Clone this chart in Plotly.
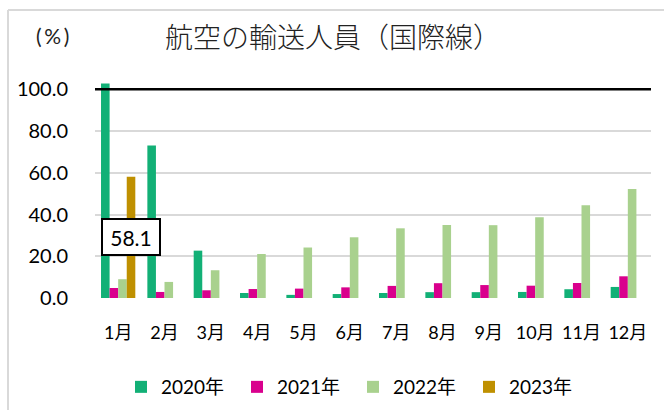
import plotly.graph_objects as go

# Monthly international air passengers, relative to the 2019 level (%)
months = ["1月", "2月", "3月", "4月", "5月", "6月", "7月", "8月", "9月", "10月", "11月", "12月"]
y2020 = [102.8, 73.1, 22.7, 2.4, 1.5, 1.9, 2.4, 2.8, 2.8, 2.9, 4.2, 5.3]
y2021 = [4.8, 2.9, 3.7, 4.3, 4.5, 5.1, 5.8, 7.1, 6.2, 5.9, 7.2, 10.4]
y2022 = [9.0, 7.7, 13.3, 21.1, 24.2, 29.1, 33.4, 35.0, 34.9, 38.7, 44.5, 52.2]
y2023 = [58.1, None, None, None, None, None, None, None, None, None, None, None]
series_names = ["2020年", "2021年", "2022年", "2023年"]
reference_level = 100.0
y_ticks = [0, 20, 40, 60, 80, 100]

colors = ["#12B076", "#D9008D", "#A9D18E", "#BF9000"]

W, H = 664, 410
ML, MR, MT, MB = 95, 13, 81, 112
BARGAP = 0.26

num_font = "Lato, 'Noto Sans CJK JP', sans-serif"
cjk_font = "'Noto Sans CJK JP', sans-serif"

pw = W - ML - MR
ph = H - MT - MB
def px_x(p):
    return (p - ML) / pw
def px_y(p):
    return (H - p - MB) / ph

fig = go.Figure()
for name, vals, col in zip(series_names, [y2020, y2021, y2022, y2023], colors):
    fig.add_trace(go.Bar(x=months, y=vals, name=name, marker_color=col,
                         marker_line_width=0))

# horizontal reference line at 100
fig.add_hline(y=reference_level, line_color="#000000", line_width=2.5, layer="above")

# centred value label on the 2023 January bar
n_series = len(series_names)
group_w = 1 - BARGAP
offset = group_w * ((n_series - 0.5) / n_series - 0.5)
jan_idx = months.index("1月")
fig.add_annotation(x=jan_idx + offset, y=y2023[jan_idx] / 2, xref="x", yref="y",
                   text=f"{y2023[jan_idx]:.1f}", showarrow=False,
                   font=dict(family=num_font, size=21, color="#000000"),
                   bgcolor="#FFFFFF", bordercolor="#000000", borderwidth=2,
                   width=56, height=34, borderpad=0)

# unit label
fig.add_annotation(x=px_x(52), y=px_y(36), xref="paper", yref="paper",
                   text="(\u2009%\u2009)", showarrow=False, xanchor="center", yanchor="middle",
                   font=dict(family=num_font, size=21, color="#222222"))

# chart border (light grey frame)
fig.add_shape(type="line", xref="paper", yref="paper",
              x0=px_x(8), x1=px_x(W + 5), y0=px_y(10), y1=px_y(10),
              line=dict(color="#D9D9D9", width=2))
fig.add_shape(type="line", xref="paper", yref="paper",
              x0=px_x(8), x1=px_x(8), y0=px_y(10), y1=px_y(H + 5),
              line=dict(color="#D9D9D9", width=2))

fig.update_layout(
    width=W, height=H,
    margin=dict(l=ML, r=MR, t=MT, b=MB, autoexpand=False),
    paper_bgcolor="#FFFFFF", plot_bgcolor="#FFFFFF",
    barmode="group", bargap=BARGAP, bargroupgap=0,
    title=dict(text="航空の輸送人員（国際線）", x=333 / W, xanchor="center",
               y=1 - 38 / H, yanchor="middle", xref="container", yref="container",
               font=dict(family=cjk_font, size=28, color="#222222", weight=300)),
    showlegend=True,
    legend=dict(orientation="h", x=px_x(121), y=px_y(368), xanchor="left", yanchor="top",
                font=dict(family=num_font, size=19, color="#000000"),
                entrywidth=71, entrywidthmode="pixels", itemwidth=30,
                bgcolor="rgba(0,0,0,0)", traceorder="normal"),
)
fig.update_xaxes(type="category", showgrid=False, showline=False, zeroline=False,
                 ticks="", ticklabelstandoff=22, automargin=False,
                 tickfont=dict(family=num_font, size=18, color="#000000"))
fig.update_yaxes(range=[0, 104], tickvals=y_ticks, tickformat=".1f",
                 showgrid=True, gridcolor="#D9D9D9", gridwidth=1.5,
                 zeroline=False, showline=False, ticks="", ticklabelstandoff=26,
                 automargin=False,
                 tickfont=dict(family=num_font, size=20, color="#000000"))

fig.write_html("out.html")
